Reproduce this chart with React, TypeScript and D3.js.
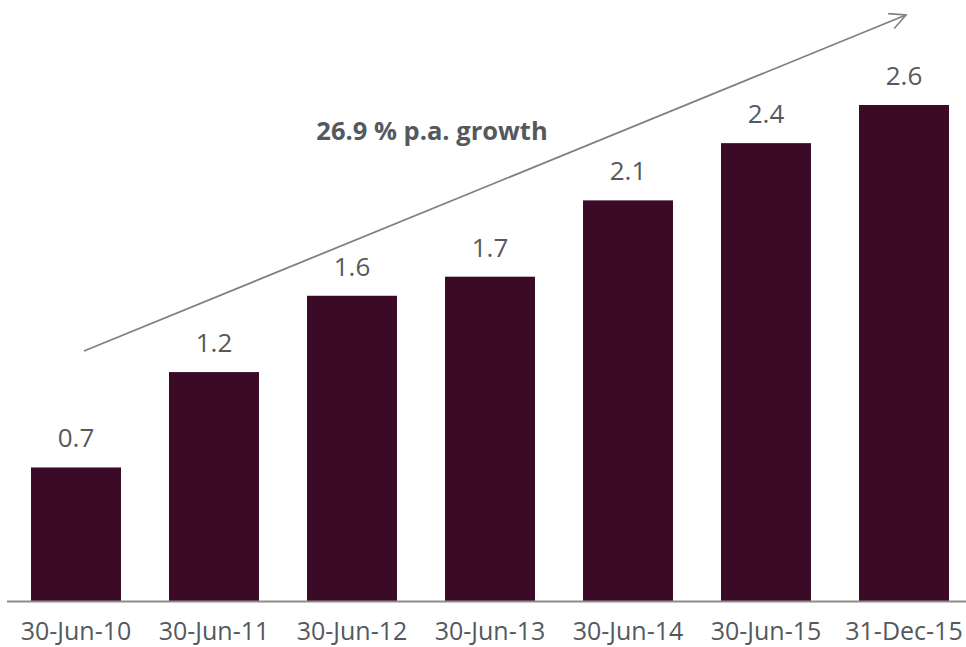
import React from "react";
import * as d3 from "d3";

const categories = ["30-Jun-10", "30-Jun-11", "30-Jun-12", "30-Jun-13", "30-Jun-14", "30-Jun-15", "31-Dec-15"];
const values = [0.7, 1.2, 1.6, 1.7, 2.1, 2.4, 2.6];
const growthLabel = "26.9 % p.a. growth";

const W = 966;
const H = 647;
const FONT = "'Open Sans', sans-serif";
const TEXT = "#55595e";

export default function App() {
  const x = d3.scaleBand<string>().domain(categories).range([7, 973]).paddingInner(0.348).paddingOuter(0.174);
  const y = d3.scaleLinear().domain([0, 2.6]).range([601, 105]);
  return (
    <svg width={W} height={H} style={{ position: "absolute", left: 0, top: 0 }}>
      <defs>
        <marker id="arr" viewBox="0 0 20 20" refX="18" refY="10" markerWidth="20" markerHeight="20" markerUnits="userSpaceOnUse" orient="auto">
          <path d="M2,2 L18,10 L2,18" fill="none" stroke="#808080" strokeWidth={1.6} />
        </marker>
      </defs>
      {categories.map((c, i) => (
        <g key={c}>
          <rect x={x(c)} y={y(values[i])} width={x.bandwidth()} height={y(0) - y(values[i])} fill="#3a0a26" />
          <text x={(x(c) as number) + x.bandwidth() / 2} y={y(values[i]) - 20} textAnchor="middle" fontFamily={FONT} fontSize={26} fill={TEXT}>
            {values[i].toFixed(1)}
          </text>
          <text x={(x(c) as number) + x.bandwidth() / 2} y={639.5} textAnchor="middle" fontFamily={FONT} fontSize={25} fill={TEXT}>
            {c}
          </text>
        </g>
      ))}
      <line x1={7} x2={W} y1={601.5} y2={601.5} stroke="#8c8c8c" strokeWidth={2} />
      <line x1={84} y1={351} x2={906} y2={15} stroke="#808080" strokeWidth={1.8} markerEnd="url(#arr)" />
      <text x={432} y={140} textAnchor="middle" fontFamily={FONT} fontWeight="bold" fontSize={25.5} fill={TEXT}>
        {growthLabel}
      </text>
    </svg>
  );
}
